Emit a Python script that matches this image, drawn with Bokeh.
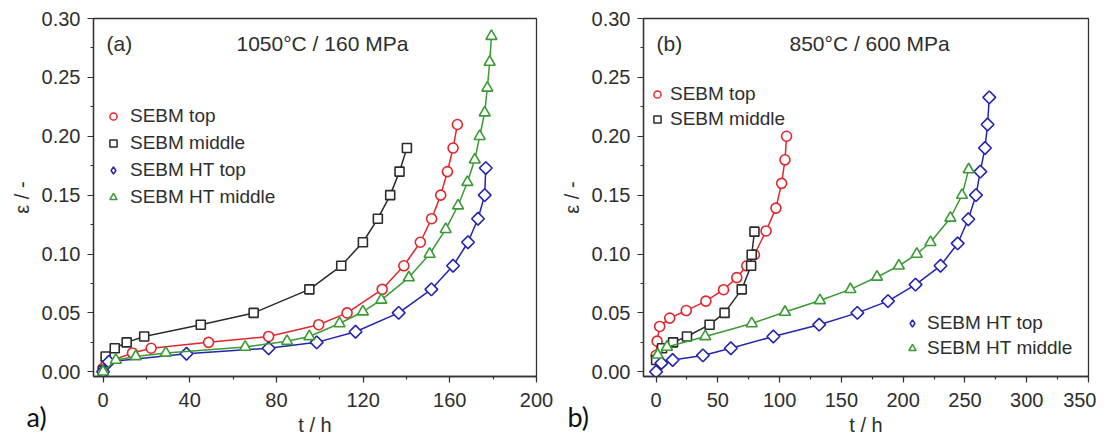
import math
from bokeh.plotting import figure
from bokeh.models import (Range1d, SingleIntervalTicker, FixedTicker, Legend, LegendItem,
                          Label, NumeralTickFormatter)
from bokeh.layouts import row
from bokeh.embed import file_html
from bokeh.resources import INLINE

# ---------------- data: panel (a) 1050°C / 160 MPa ----------------
a_top_t = [0, 1.5, 13.6, 22.2, 48.7, 76.4, 99.5, 112.6, 128.8, 138.8, 146.4, 151.6, 155.8, 158.9, 161.5, 163.5]
a_top_e = [0.003, 0.008, 0.016, 0.020, 0.025, 0.030, 0.040, 0.050, 0.070, 0.090, 0.110, 0.130, 0.150, 0.170, 0.190, 0.210]
a_mid_t = [0, 1.2, 5.4, 10.9, 19.0, 45.1, 69.5, 95.2, 109.9, 119.9, 126.8, 132.5, 136.8, 140.2]
a_mid_e = [0.001, 0.013, 0.020, 0.025, 0.030, 0.040, 0.050, 0.070, 0.090, 0.110, 0.130, 0.150, 0.170, 0.190]
a_httop_t = [0, 2.7, 38.5, 76.4, 98.6, 116.5, 136.4, 151.5, 161.5, 168.4, 173.0, 176.1, 176.6]
a_httop_e = [0.0, 0.0085, 0.0153, 0.020, 0.025, 0.034, 0.050, 0.070, 0.090, 0.110, 0.130, 0.150, 0.173]
a_htmid_t = [0, 5.9, 15.1, 29.0, 65.6, 84.9, 95.2, 109.1, 119.9, 128.4, 141.1, 150.7, 158.1, 163.8,
             168.1, 171.5, 173.8, 176.1, 177.3, 178.4, 179.2]
a_htmid_e = [0.0, 0.010, 0.013, 0.016, 0.021, 0.026, 0.030, 0.041, 0.051, 0.061, 0.080, 0.100, 0.121, 0.141,
             0.161, 0.180, 0.200, 0.220, 0.241, 0.263, 0.285]

# ---------------- data: panel (b) 850°C / 600 MPa ----------------
b_top_t = [0.0, 0.8, 2.9, 11.0, 24.4, 40.3, 54.6, 65.3, 73.4, 79.6, 89.0, 97.0, 101.6, 104.3, 105.6]
b_top_e = [0.014, 0.026, 0.0385, 0.0456, 0.052, 0.060, 0.0697, 0.080, 0.090, 0.0994, 0.1196, 0.139, 0.160, 0.180, 0.200]
b_mid_t = [0, 4.8, 13.7, 25.0, 43.3, 55.4, 69.3, 76.9, 77.4, 79.6]
b_mid_e = [0.010, 0.020, 0.025, 0.030, 0.040, 0.050, 0.070, 0.090, 0.0994, 0.119]
b_httop_t = [0, 4.3, 13.4, 37.9, 60.5, 94.9, 132.0, 162.9, 187.7, 210.0, 230.2, 244.1, 252.7, 258.9,
             262.4, 266.2, 268.3, 269.7]
b_httop_e = [0.0, 0.0074, 0.010, 0.0139, 0.020, 0.030, 0.040, 0.050, 0.060, 0.074, 0.090, 0.109, 0.1295,
             0.150, 0.170, 0.190, 0.210, 0.233]
b_htmid_t = [1.3, 8.8, 39.8, 77.4, 104.3, 132.6, 157.3, 178.8, 196.5, 211.0, 222.1, 238.2, 247.6, 253.0]
b_htmid_e = [0.0144, 0.021, 0.030, 0.041, 0.0507, 0.0606, 0.070, 0.0805, 0.090, 0.100, 0.110, 0.1306, 0.150, 0.1717]

names = ["SEBM top", "SEBM middle", "SEBM HT top", "SEBM HT middle"]
colors = ["#e3262b", "#2b2b2b", "#2424b0", "#3a9a34"]
markers = ["circle", "square", "square", "triangle"]
angles = [0, 0, math.pi / 4, 0]
msizes = [10, 9, 9, 11]
legend_markers = ["circle", "square", "diamond", "triangle"]
legend_sizes = [7, 6.5, 9.5, 8]

y_major = [0.0, 0.05, 0.10, 0.15, 0.20, 0.25, 0.30]
y_minor = [0.025, 0.075, 0.125, 0.175, 0.225, 0.275]

FONT = "Liberation Sans"
TXT = "#2e2e2e"
AXC = "#333333"


def make_panel(series, x_end, x_start, x_interval, frame_w, b_left, b_right, tag, title,
               title_x, tag_panel, legends):
    p = figure(frame_width=frame_w, frame_height=358, output_backend="svg", toolbar_location=None,
               x_range=Range1d(x_start, x_end), y_range=Range1d(-0.004, 0.30),
               min_border_left=b_left, min_border_right=b_right, min_border_top=18,
               min_border_bottom=59)
    p.xgrid.visible = False
    p.ygrid.visible = False
    p.outline_line_color = AXC
    p.outline_line_width = 1.3
    p.outline_line_alpha = 1
    p.background_fill_color = "white"
    p.border_fill_color = "white"

    p.xaxis.ticker = SingleIntervalTicker(interval=x_interval, num_minor_ticks=2)
    p.yaxis.ticker = FixedTicker(ticks=y_major, minor_ticks=y_minor)
    p.yaxis.formatter = NumeralTickFormatter(format="0.00")
    for ax in (p.xaxis[0], p.yaxis[0]):
        ax.axis_line_color = AXC
        ax.axis_line_width = 1.3
        ax.major_tick_line_color = AXC
        ax.minor_tick_line_color = AXC
        ax.major_tick_line_width = 1.2
        ax.minor_tick_line_width = 1.2
        ax.major_tick_out = 6
        ax.major_tick_in = 0
        ax.minor_tick_out = 3
        ax.minor_tick_in = 0
        ax.major_label_text_font = FONT
        ax.major_label_text_font_size = "20px"
        ax.major_label_text_color = TXT
        ax.axis_label_text_font = FONT
        ax.axis_label_text_font_size = "20px"
        ax.axis_label_text_font_style = "normal"
        ax.axis_label_text_color = TXT
    p.xaxis.major_label_standoff = 10
    p.xaxis.axis_label = "t / h"
    p.xaxis.axis_label_standoff = 4
    p.yaxis.major_label_standoff = 7
    p.yaxis.axis_label = "\u03b5 / -"
    p.yaxis.axis_label_standoff = 6

    leg_rends = []
    for (t, e), c, m, a, s, lm, ls in zip(series, colors, markers, angles, msizes,
                                          legend_markers, legend_sizes):
        p.line(t, e, line_color=c, line_width=1.5)
        p.scatter(t, e, marker=m, angle=a, size=s, line_color=c, line_width=1.6, fill_color="white")
        # legend-only glyph (smaller marker as in the reference legend)
        r = p.scatter([float("nan")], [float("nan")], marker=lm, size=ls, line_color=c,
                      line_width=1.5, fill_color="white")
        leg_rends.append(r)

    for idxs, (vx, vy), spacing, standoff in legends:
        items = [LegendItem(label=names[i], renderers=[leg_rends[i]]) for i in idxs]
        lg = Legend(items=items, location=(vx, vy), orientation="vertical",
                    label_text_font=FONT, label_text_font_size="19px", label_text_color=TXT,
                    label_height=22, glyph_height=22, glyph_width=18, spacing=spacing,
                    label_standoff=standoff, padding=0, margin=0,
                    background_fill_alpha=0, border_line_alpha=0)
        p.add_layout(lg)

    # panel tag and condition
    p.add_layout(Label(x=13, y=333, x_units="screen", y_units="screen", text=tag_panel,
                       text_baseline="middle", text_font=FONT, text_font_size="21px", text_color=TXT))
    p.add_layout(Label(x=title_x, y=333, x_units="screen", y_units="screen", text=title,
                       text_baseline="middle", text_font=FONT, text_font_size="21px", text_color=TXT))
    # sub-figure tag, placed in a side panel (not clipped to the frame), canvas pixels
    p.add_layout(Label(x=tag[1], y=416, x_units="canvas", y_units="canvas", text=tag[0],
                       text_baseline="alphabetic", text_font="Lato", text_font_size="27px",
                       text_color="#111111"), "below")
    return p


pa = make_panel(
    [(a_top_t, a_top_e), (a_mid_t, a_mid_e), (a_httop_t, a_httop_e), (a_htmid_t, a_htmid_e)],
    x_end=200, x_start=-4.4, x_interval=40, frame_w=443, b_left=93, b_right=21,
    tag=("a)", 26), title="1050\u00b0C / 160 MPa", title_x=143, tag_panel="(a)",
    legends=[([0, 1, 2, 3], (11, 168), 5, 8)])

pb = make_panel(
    [(b_top_t, b_top_e), (b_mid_t, b_mid_e), (b_httop_t, b_httop_e), (b_htmid_t, b_htmid_e)],
    x_end=350, x_start=-10.2, x_interval=50, frame_w=445, b_left=82, b_right=8,
    tag=("b)", 10), title="850\u00b0C / 600 MPa", title_x=146, tag_panel="(b)",
    legends=[([0, 1], (5, 246), 3, 4), ([2, 3], (260, 17), 3, 6)])

layout = row(pa, pb)
open("out.html", "w").write(file_html(layout, INLINE))
